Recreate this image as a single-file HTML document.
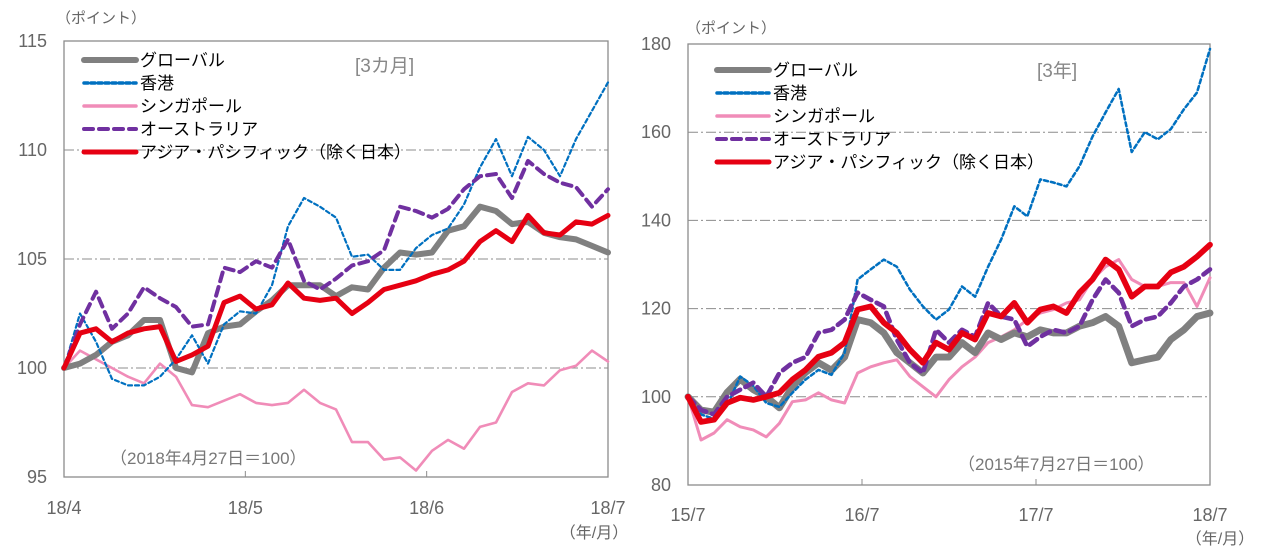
<!DOCTYPE html>
<html><head><meta charset="utf-8">
<style>
html,body{margin:0;padding:0;background:#fff;}
svg{display:block;font-family:"Liberation Sans","Noto Sans CJK JP",sans-serif;}
</style></head>
<body>
<svg id="chart" width="1261" height="560" viewBox="0 0 1261 560" xmlns="http://www.w3.org/2000/svg">
  <g id="left"></g>
  <g id="right"></g>
</svg>
<script>
// ---------- LEFT CHART DATA (3 months) ----------
const leftGlobal = [100,100.2,100.6,101.2,101.5,102.2,102.2,100,99.8,101.6,101.9,102,102.6,103.1,103.8,103.8,103.8,103.3,103.7,103.6,104.6,105.3,105.2,105.3,106.3,106.5,107.4,107.2,106.6,106.7,106.2,106,105.9,105.6,105.3];
const leftHK = [100,102.5,101.2,99.5,99.2,99.2,99.6,100.4,101.5,100.2,102,102.6,102.5,103.8,106.5,107.8,107.4,106.9,105.1,105.2,104.5,104.5,105.5,106.1,106.4,107.5,109.2,110.5,108.8,110.6,110,108.8,110.5,111.8,113.1];
const leftSG = [100,100.8,100.4,100,99.6,99.3,100.2,99.6,98.3,98.2,98.5,98.8,98.4,98.3,98.4,99,98.4,98.1,96.6,96.6,95.8,95.9,95.3,96.2,96.7,96.3,97.3,97.5,98.9,99.3,99.2,99.9,100.1,100.8,100.3];
const leftAU = [100,102,103.5,101.8,102.5,103.7,103.2,102.8,101.9,102,104.6,104.4,104.9,104.6,105.9,104,103.6,104.1,104.7,104.9,105.4,107.4,107.2,106.9,107.3,108.2,108.8,108.9,107.8,109.5,108.9,108.5,108.3,107.4,108.2];
const leftAP = [100,101.6,101.8,101.2,101.6,101.8,101.9,100.3,100.6,101,103,103.3,102.7,102.9,103.9,103.2,103.1,103.2,102.5,103,103.6,103.8,104,104.3,104.5,104.9,105.8,106.3,105.8,107,106.2,106.1,106.7,106.6,107];
const leftYTicks = [95,100,105,110,115];
const leftXLabels = ["18/4","18/5","18/6","18/7"];

// ---------- RIGHT CHART DATA (3 years) ----------
const rightGlobal = [100,97,96.5,101,104,101.6,100,97.5,102.3,105.5,107.7,106,109,117.5,116.8,114.5,110,107.7,105.4,109,109,112.3,110,114.5,113,114.5,113.6,115.2,114.5,114.5,116,116.8,118.2,116,107.7,108.4,109,113,115.2,118.2,119];
const rightHK = [100,96,95,98,104.6,102.5,98.6,97.7,100.9,103.9,106.1,105,110,126.6,128.9,131.1,129.5,124.3,120.5,117.5,119.8,125,122.7,129.5,135.7,143.2,140.9,149.3,148.6,147.7,152.3,159,164.5,169.8,155.5,160,158.4,160.7,165.2,169,178.9];
const rightSG = [100,90.2,91.8,94.8,93.2,92.5,90.9,94,98.9,99.3,100.9,99.3,98.6,105.4,106.8,107.7,108.4,104.6,102.3,100,103.9,106.8,109,112.3,113.6,115.2,117.5,119,119.8,121.3,122,126.6,129.5,131.1,126.6,125,125,125.9,125.9,120.5,127];
const rightAU = [100,97,96,100,101.6,103.2,100,105.4,107.7,109,114.5,115.2,117.5,123.6,122,120.5,113,107.7,105.4,115.2,112.3,115.2,113.6,121.3,118.2,117.5,111.4,113.6,115.2,114.5,116,122,126.6,123.6,116,117.5,118.2,121.3,125,126.6,128.9];
const rightAP = [100,94.3,94.8,98.6,99.8,99.3,100,100.9,103.9,106.1,109.1,110,112.3,119.8,120.5,116.8,114.5,110.7,107.7,112.3,110.7,114.5,113,119,118.2,121.3,116.8,119.8,120.5,119,123.6,126.6,131.1,128.9,122.7,125,125,128.2,129.5,131.8,134.5];
const rightYTicks = [80,100,120,140,160,180];
const rightXLabels = ["15/7","16/7","17/7","18/7"];

const NS = "http://www.w3.org/2000/svg";
function mk(parent, tag, attrs){
  const e = document.createElementNS(NS, tag);
  for (const k in attrs) e.setAttribute(k, attrs[k]);
  parent.appendChild(e);
  return e;
}
function txt(parent, x, y, s, size, fill, anchor){
  const t = mk(parent, "text", {x:x, y:y, "font-size":size, fill:fill, "text-anchor":anchor||"start"});
  t.textContent = s;
  return t;
}

const seriesStyles = [
  {key:"global", label:"グローバル", color:"#808080", w:6, dash:null},
  {key:"hk", label:"香港", color:"#0070c0", w:2.2, dash:"4,3"},
  {key:"sg", label:"シンガポール", color:"#f08cb8", w:2.6, dash:null},
  {key:"au", label:"オーストラリア", color:"#7030a0", w:4, dash:"9,6"},
  {key:"ap", label:"アジア・パシフィック（除く日本）", color:"#e60012", w:5, dash:null}
];

function drawChart(g, cfg){
  const {x0,x1,y0,y1,vmin,vmax,ticks,xLabels,series,gridVals} = cfg;
  const yS = v => y1 - (v - vmin) / (vmax - vmin) * (y1 - y0);
  gridVals.forEach(v => {
    const l = mk(g, "line", {x1:x0, x2:x1, y1:yS(v), y2:yS(v), stroke:"#8c8c8c", "stroke-width":1, "stroke-dasharray":"10,3,2,3"});
    
    
  });
  const fr = mk(g, "rect", {x:x0, y:y0, width:x1-x0, height:y1-y0, fill:"none", stroke:"#8c8c8c", "stroke-width":1.3});
  
  
  ticks.forEach(v => {
    const t = txt(g, cfg.yLabelX, yS(v) + 6, String(v), 18, "#666", "end");
    
    
  });
  const nL = xLabels.length;
  xLabels.forEach((s, i) => {
    const x = x0 + (x1 - x0) * i / (nL - 1);
    if (i > 0 && i < nL - 1) {
      const tk = mk(g, "line", {x1:x, x2:x, y1:y1, y2:y1 - 6, stroke:"#8c8c8c", "stroke-width":1});
      
      
    }
    const t = txt(g, x, cfg.xLabelY, s, 18, "#666", "middle");
    
    
  });
  series.forEach(sr => {
    const st = sr.style;
    const n = sr.data.length;
    const pts = sr.data.map((v, i) => (x0 + (x1 - x0) * i / (n - 1)).toFixed(1) + "," + yS(v).toFixed(1)).join(" ");
    const attrs = {points:pts, fill:"none", stroke:st.color, "stroke-width":st.w * cfg.wMul, "stroke-linejoin":"round", "stroke-linecap":"round"};
    if (st.dash) attrs["stroke-dasharray"] = st.dash;
    const p = mk(g, "polyline", attrs);
    
    
  });
  seriesStyles.forEach((st, i) => {
    const ly = cfg.legY + i * 23;
    const attrs = {x1:cfg.legX, x2:cfg.legX + 52, y1:ly, y2:ly, stroke:st.color, "stroke-width":Math.max(st.w, 3.5), "stroke-linecap":"round"};
    if (st.dash) attrs["stroke-dasharray"] = st.dash;
    const l = mk(g, "line", attrs);
    
    
    const t = txt(g, cfg.legX + 56, ly + 6, st.label, 17, "#000");
    
    
  });
}

const L = document.getElementById("left");
const R = document.getElementById("right");

drawChart(L, {x0:64, x1:608, y0:41, y1:477, vmin:95, vmax:115, ticks:leftYTicks, gridVals:[100,105,110],
  xLabels:leftXLabels, yLabelX:47, xLabelY:514, legX:84, legY:60, wMul:1,
  series:[
    {style:seriesStyles[2], data:leftSG},
    {style:seriesStyles[0], data:leftGlobal},
    {style:seriesStyles[1], data:leftHK},
    {style:seriesStyles[3], data:leftAU},
    {style:seriesStyles[4], data:leftAP}
  ]});
drawChart(R, {x0:688, x1:1210, y0:44, y1:485, vmin:80, vmax:180, ticks:rightYTicks, gridVals:[100,120,140,160],
  xLabels:rightXLabels, yLabelX:671, xLabelY:521, legX:717, legY:70, wMul:1.15,
  series:[
    {style:seriesStyles[2], data:rightSG},
    {style:seriesStyles[0], data:rightGlobal},
    {style:seriesStyles[1], data:rightHK},
    {style:seriesStyles[3], data:rightAU},
    {style:seriesStyles[4], data:rightAP}
  ]});

let a;
a = txt(L, 56, 23, "（ポイント）", 15, "#666");  
a = txt(L, 355, 72, "[3カ月]", 19, "#888");  
a = txt(L, 110, 464, "（2018年4月27日＝100）", 17, "#777");  
a = txt(L, 594, 538, "（年/月）", 16, "#666", "middle");  
a = txt(R, 686, 33, "（ポイント）", 15, "#666");  
a = txt(R, 1037, 77, "[3年]", 19, "#888");  
a = txt(R, 958, 470, "（2015年7月27日＝100）", 17, "#777");  
a = txt(R, 1220, 544, "（年/月）", 16, "#666", "middle");  
</script>
</body></html>
